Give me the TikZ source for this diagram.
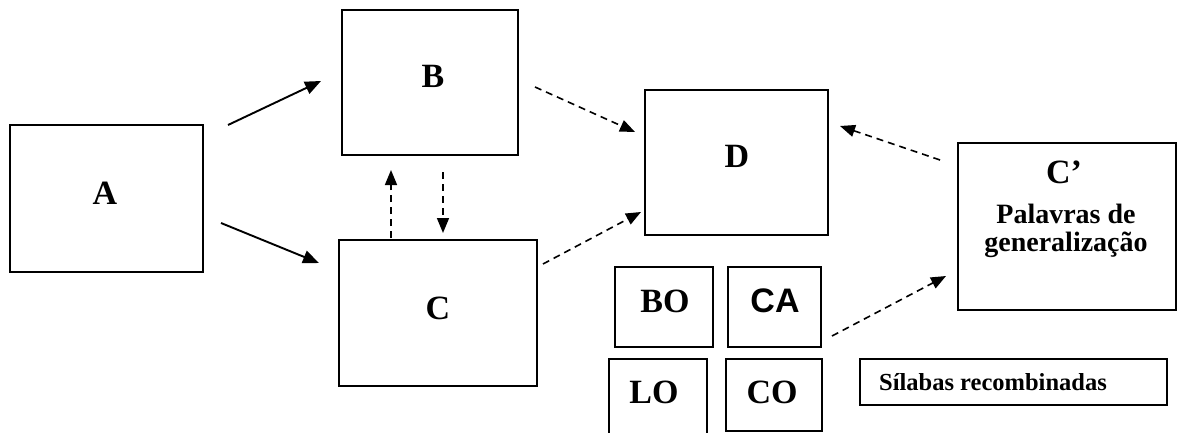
\documentclass[tikz,border=0pt]{standalone}
\usepackage{fontspec}
\setmainfont{Liberation Serif}
\newfontfamily\arialb{Liberation Sans}[BoldFont={* Bold}]
\usetikzlibrary{arrows.meta}
\begin{document}
\begin{tikzpicture}[x=1pt,y=-1pt,
  box/.style={draw, line width=1.7pt, rectangle, inner sep=0pt},
  lbl/.style={font=\fontsize{34}{36}\selectfont\bfseries, inner sep=0pt},
  syl/.style={font=\fontsize{34}{36}\selectfont\bfseries, inner sep=0pt},
  solidarrow/.style={line width=1.9pt, -{Triangle[length=16pt,width=13pt]}},
  dasharrow/.style={line width=1.6pt, dash pattern=on 7pt off 5pt, -{Triangle[length=15pt,width=12pt]}}]
\useasboundingbox (0,0) rectangle (1180,433);
% boxes
\draw[box] (10,125) rectangle (203,272);
\draw[box] (342,10) rectangle (518,155);
\draw[box] (339,240) rectangle (537,386);
\draw[box] (645,90) rectangle (828,235);
\draw[box] (958,143) rectangle (1176,310);
\draw[box] (615,267) rectangle (713,347);
\draw[box] (728,267) rectangle (821,347);
\draw[box] (609,440) -- (609,359) -- (707,359) -- (707,440);
\draw[box] (726,359) rectangle (822,431);
\draw[box] (860,359) rectangle (1167,405);
% labels
\node[lbl] (A) at (105,193) {A};
\node[lbl] (B) at (433,76) {B};
\node[lbl] (C) at (438,308) {C};
\node[lbl] (D) at (737,156) {D};
\node[lbl] (Cp) at (1064,172) {C’};
\node[font=\fontsize{28}{29}\selectfont\bfseries, inner sep=0pt, align=center] (pal) at (1066,231) {Palavras de\\[-1pt]generalização};
\node[syl] (BO) at (665,301) {BO};
\node[font=\arialb\fontsize{34}{36}\selectfont\bfseries, inner sep=0pt] (CA) at (775,301) {CA};
\node[syl] (LO) at (654,392) {LO};
\node[syl] (CO) at (772,392) {CO};
\node[font=\fontsize{24.5}{26}\selectfont\bfseries, inner sep=0pt, anchor=west] (sil) at (879,382) {Sílabas recombinadas};
% arrow end points
\coordinate (ab1) at (228,125); \coordinate (ab2) at (321,81);
\coordinate (ac1) at (221,223); \coordinate (ac2) at (319,263);
\coordinate (bd1) at (535,87); \coordinate (bd2) at (635,132);
\coordinate (cd1) at (543,264); \coordinate (cd2) at (641,212);
\coordinate (cb1) at (391,238); \coordinate (cb2) at (391,170);
\coordinate (bc1) at (443,172); \coordinate (bc2) at (443,233);
\coordinate (pd1) at (940,160); \coordinate (pd2) at (840,126);
\coordinate (sp1) at (832,336); \coordinate (sp2) at (946,276);
\draw[solidarrow] (ab1) -- (ab2);
\draw[solidarrow] (ac1) -- (ac2);
\draw[dasharrow] (bd1) -- (bd2);
\draw[dasharrow] (cd1) -- (cd2);
\draw[dasharrow] (cb1) -- (cb2);
\draw[dasharrow] (bc1) -- (bc2);
\draw[dasharrow] (pd1) -- (pd2);
\draw[dasharrow] (sp1) -- (sp2);
\end{tikzpicture}
\end{document}
